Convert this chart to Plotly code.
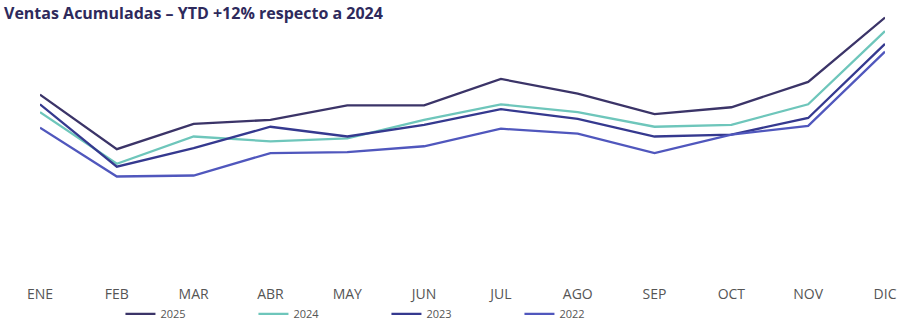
import plotly.graph_objects as go

months = ["ENE", "FEB", "MAR", "ABR", "MAY", "JUN", "JUL", "AGO", "SEP", "OCT", "NOV", "DIC"]
v2025 = [183, 127, 153, 157, 172, 172, 199, 184, 163, 170, 196, 262]
v2024 = [165, 112, 140, 135, 138, 157, 173, 165, 150, 152, 173, 248]
v2023 = [173, 109, 128, 150, 140, 152, 168, 158, 140, 142, 159, 235]
v2022 = [149, 99, 100, 123, 124, 130, 148, 143, 123, 142, 151, 227]

series = [
    ("2025", v2025, "#3b3468"),
    ("2024", v2024, "#6ec6bb"),
    ("2023", v2023, "#35398f"),
    ("2022", v2022, "#5057bd"),
]

fig = go.Figure()
for name, vals, color in series:
    fig.add_trace(go.Scatter(x=months, y=vals, name=name, mode="lines",
                             line=dict(color=color, width=2.3)))

fig.update_layout(
    width=906, height=329,
    margin=dict(l=40, r=21, t=0, b=49),
    paper_bgcolor="white", plot_bgcolor="white",
    font=dict(family="Open Sans", color="#555555", size=13),
    showlegend=True,
    legend=dict(orientation="h", x=0.41, xanchor="center", y=-0.15, yanchor="middle",
                font=dict(size=11, color="#555555"), entrywidth=88,
                bgcolor="rgba(0,0,0,0)"),
    xaxis=dict(range=[0, 11], showgrid=False, zeroline=False, showline=False,
               ticks="", ticklabelstandoff=11, tickfont=dict(size=14, color="#555555")),
    yaxis=dict(range=[0, 280], visible=False),
    annotations=[dict(text="<b>Ventas Acumuladas – YTD +12% respecto a 2024</b>",
                      xref="paper", yref="paper", x=-0.045, y=1.0,
                      xanchor="left", yanchor="top", showarrow=False,
                      font=dict(family="Open Sans", size=16, color="#2e2a5c"))],
)

fig.write_html("out.html")
